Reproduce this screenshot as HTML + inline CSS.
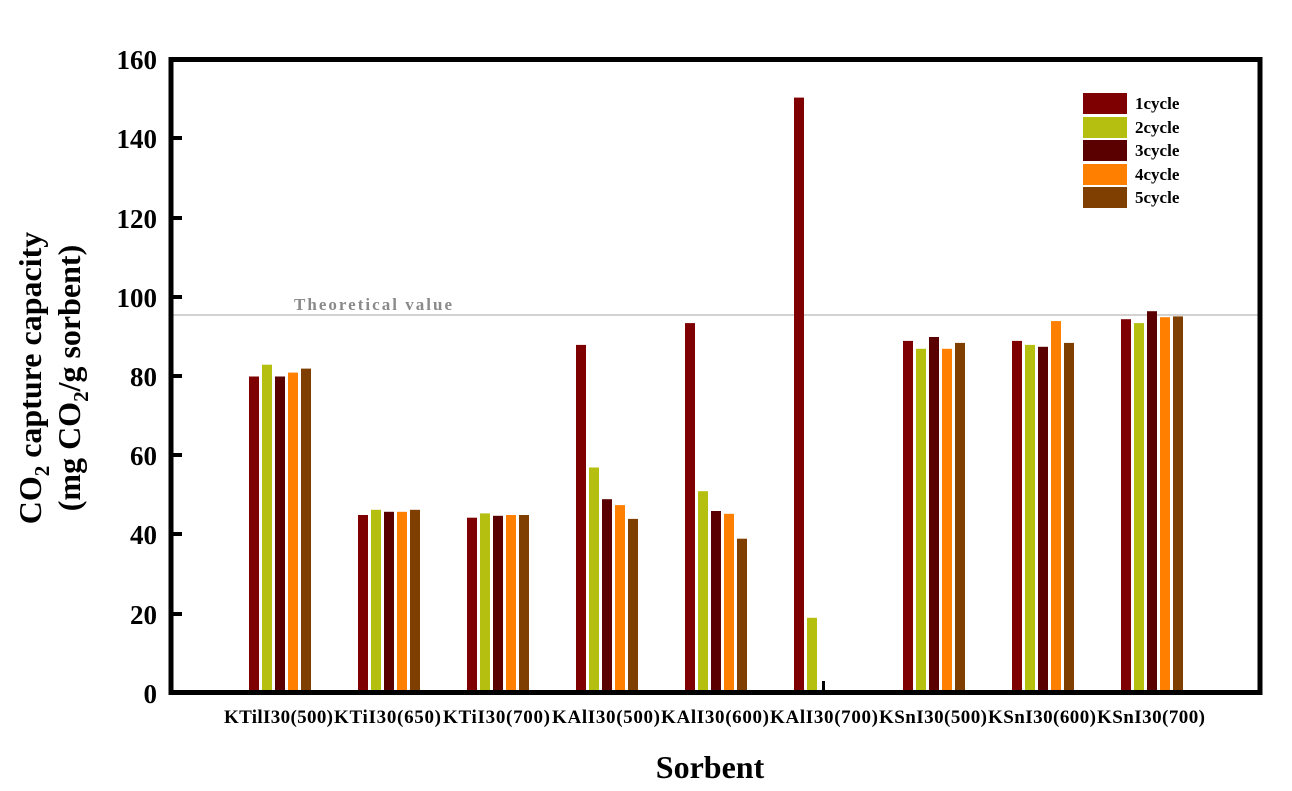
<!DOCTYPE html>
<html><head><meta charset="utf-8"><style>
html,body{margin:0;padding:0;background:#fff;}
svg{display:block;font-family:"Liberation Serif",serif;font-weight:bold;}
</style></head><body>
<svg width="1292" height="791" viewBox="0 0 1292 791" xmlns="http://www.w3.org/2000/svg">
<rect width="1292" height="791" fill="#fff"/>
<line x1="172" y1="315" x2="1260" y2="315" stroke="#b8b8b8" stroke-width="1.2"/>
<text x="294" y="310" font-size="17" fill="#8a8a8a" textLength="158" lengthAdjust="spacing">Theoretical value</text>
<g transform="translate(0,693) scale(1,-1)">
<g fill="#7f0000"><rect x="249" y="0" width="10" height="316.5"/><rect x="358" y="0" width="10" height="178"/><rect x="467" y="0" width="10" height="175.3"/><rect x="576" y="0" width="10" height="348.1"/><rect x="685" y="0" width="10" height="369.9"/><rect x="794" y="0" width="10" height="595.4"/><rect x="903" y="0" width="10" height="352.1"/><rect x="1012" y="0" width="10" height="352.1"/><rect x="1121" y="0" width="10" height="373.8"/></g>
<g fill="#b5bf0f"><rect x="262" y="0" width="10" height="328.3"/><rect x="371" y="0" width="10" height="183.2"/><rect x="480" y="0" width="10" height="179.6"/><rect x="589" y="0" width="10" height="225.5"/><rect x="698" y="0" width="10" height="201.8"/><rect x="807" y="0" width="10" height="75.2"/><rect x="916" y="0" width="10" height="344.2"/><rect x="1025" y="0" width="10" height="348.1"/><rect x="1134" y="0" width="10" height="369.9"/></g>
<g fill="#5a0000"><rect x="275" y="0" width="10" height="316.5"/><rect x="384" y="0" width="10" height="181.2"/><rect x="493" y="0" width="10" height="177.2"/><rect x="602" y="0" width="10" height="193.8"/><rect x="711" y="0" width="10" height="182"/><rect x="929" y="0" width="10" height="356"/><rect x="1038" y="0" width="10" height="346.2"/><rect x="1147" y="0" width="10" height="381.8"/></g>
<rect x="822" y="0" width="3" height="12" fill="#000"/>
<g fill="#ff8000"><rect x="288" y="0" width="10" height="320.4"/><rect x="397" y="0" width="10" height="181.2"/><rect x="506" y="0" width="10" height="178"/><rect x="615" y="0" width="10" height="187.9"/><rect x="724" y="0" width="10" height="179.2"/><rect x="942" y="0" width="10" height="344.2"/><rect x="1051" y="0" width="10" height="371.9"/><rect x="1160" y="0" width="10" height="375.8"/></g>
<g fill="#7f3f00"><rect x="301" y="0" width="10" height="324.4"/><rect x="410" y="0" width="10" height="183.2"/><rect x="519" y="0" width="10" height="178"/><rect x="628" y="0" width="10" height="174.1"/><rect x="737" y="0" width="10" height="154.3"/><rect x="955" y="0" width="10" height="350.1"/><rect x="1064" y="0" width="10" height="350.1"/><rect x="1173" y="0" width="10" height="376.6"/></g>
</g>
<rect x="171" y="59.5" width="1089" height="633" fill="none" stroke="#000" stroke-width="5"/>
<g stroke="#000" stroke-width="4">
<line x1="171" y1="614" x2="182" y2="614"/><line x1="171" y1="534" x2="182" y2="534"/><line x1="171" y1="455" x2="182" y2="455"/><line x1="171" y1="376" x2="182" y2="376"/><line x1="171" y1="297" x2="182" y2="297"/><line x1="171" y1="218" x2="182" y2="218"/><line x1="171" y1="138" x2="182" y2="138"/>
</g>
<g font-size="27" text-anchor="end" fill="#000">
<text x="157" y="703">0</text><text x="157" y="624">20</text><text x="157" y="544">40</text><text x="157" y="465">60</text><text x="157" y="386">80</text><text x="157" y="307">100</text><text x="157" y="228">120</text><text x="157" y="148">140</text><text x="157" y="69">160</text>
</g>
<g font-size="19" fill="#000" lengthAdjust="spacingAndGlyphs">
<text x="224" y="723" textLength="109">KTilI30(500)</text><text x="334" y="723" textLength="107">KTiI30(650)</text><text x="443" y="723" textLength="107">KTiI30(700)</text><text x="552" y="723" textLength="108">KAlI30(500)</text><text x="661" y="723" textLength="108">KAlI30(600)</text><text x="770" y="723" textLength="108">KAlI30(700)</text><text x="879" y="723" textLength="108">KSnI30(500)</text><text x="988" y="723" textLength="108">KSnI30(600)</text><text x="1097" y="723" textLength="108">KSnI30(700)</text>
</g>
<text x="710" y="778" font-size="32" text-anchor="middle" fill="#000">Sorbent</text>
<g font-size="32" text-anchor="middle" fill="#000">
<text transform="translate(41,378) rotate(-90)">CO<tspan font-size="21" dy="8">2</tspan><tspan dy="-8"> capture capacity</tspan></text>
<text transform="translate(80,378) rotate(-90)">(mg CO<tspan font-size="21" dy="8">2</tspan><tspan dy="-8">/g sorbent)</tspan></text>
</g>
<rect x="1083" y="93" width="44" height="21" fill="#7f0000"/>
<rect x="1083" y="117" width="44" height="21" fill="#b5bf0f"/>
<rect x="1083" y="140" width="44" height="21" fill="#5a0000"/>
<rect x="1083" y="164" width="44" height="21" fill="#ff8000"/>
<rect x="1083" y="187" width="44" height="21" fill="#7f3f00"/>
<g font-size="17" fill="#000">
<text x="1135" y="109">1cycle</text><text x="1135" y="133">2cycle</text><text x="1135" y="156">3cycle</text><text x="1135" y="180">4cycle</text><text x="1135" y="203">5cycle</text>
</g>
</svg>
</body></html>
